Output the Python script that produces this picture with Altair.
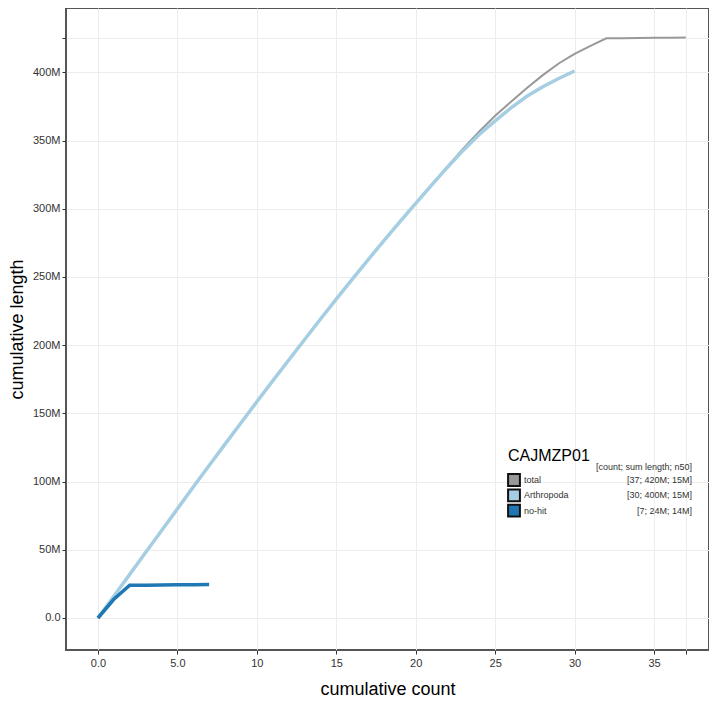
import altair as alt
import pandas as pd

# ---- data (cumulative length in millions vs cumulative contig count) ----
total_M = [0, 16.0, 32.0, 48.0, 64.0, 80.0, 96.0, 111.8, 127.5, 143.0, 158.5,
           173.8, 189.0, 204.0, 219.0, 233.8, 248.3, 262.6, 276.6, 290.4, 304.0,
           317.4, 331.1, 344.2, 356.7, 368.2, 378.5, 388.5, 398.0, 406.5, 413.5,
           419.5, 425.0, 425.1, 425.2, 425.3, 425.4, 425.5]
arthropoda_M = [0, 16.0, 32.0, 48.0, 64.0, 80.0, 96.0, 111.8, 127.5, 143.0, 158.5,
                173.8, 189.0, 204.0, 219.0, 233.8, 248.3, 262.6, 276.6, 290.4, 304.0,
                317.4, 330.5, 343.0, 354.5, 364.5, 374.0, 382.5, 389.5, 395.5, 401.0]
nohit_M = [0, 13.7, 24.0, 24.1, 24.2, 24.3, 24.4, 24.5]

series_names = ["total", "Arthropoda", "no-hit"]
series_colors = ["#999999", "#a6cee3", "#1f78b4"]
series_widths = [2, 3.5, 3.5]
legend_stats = ["[37; 420M; 15M]", "[30; 400M; 15M]", "[7; 24M; 14M]"]
assembly_name = "CAJMZP01"

x_ticks = [0, 5, 10, 15, 20, 25, 30, 35, 37]
y_ticks_M = [0, 50, 100, 150, 200, 250, 300, 350, 400, 425]

series_values = [total_M, arthropoda_M, nohit_M]

W, H = 643, 642

xscale = alt.Scale(domain=[-2.01, 38.46], nice=False, zero=False)
yscale = alt.Scale(domain=[-23.46e6, 447.2e6], nice=False, zero=False)

xaxis = alt.Axis(values=x_ticks,
                 labelExpr="datum.value == 37 ? '' : format(datum.value, '.2s')",
                 title="cumulative count", titleFontSize=18, titleFontWeight="normal",
                 titleColor="#000000", titlePadding=12, labelFontSize=11,
                 labelColor="#333333", tickColor="#333333", tickSize=4, labelPadding=3,
                 domain=False, grid=True, gridColor="#ececec", gridWidth=1,
                 titleFont="Liberation Sans", labelFont="Liberation Sans")
yaxis = alt.Axis(values=[v * 1e6 for v in y_ticks_M],
                 labelExpr="datum.value > 410e6 && datum.value < 440e6 ? '' : format(datum.value, '.2s')",
                 title="cumulative length", titleFontSize=18, titleFontWeight="normal",
                 titleColor="#000000", titlePadding=6, labelFontSize=11,
                 labelColor="#333333", tickColor="#333333", tickSize=4, labelPadding=2,
                 domain=False, grid=True, gridColor="#ececec", gridWidth=1,
                 titleFont="Liberation Sans", labelFont="Liberation Sans")

layers = []
for i, (name, vals) in enumerate(zip(series_names, series_values)):
    df = pd.DataFrame({"count": list(range(len(vals))),
                       "length": [v * 1e6 for v in vals],
                       "series": name})
    ch = alt.Chart(df).mark_line(color=series_colors[i], strokeWidth=series_widths[i]).encode(
        x=alt.X("count:Q", scale=xscale, axis=xaxis),
        y=alt.Y("length:Q", scale=yscale, axis=yaxis),
    )
    layers.append(ch)

# ---- custom legend (layout positions in pixels within the plot area) ----
leg_x0 = 442
row_y0 = 472
row_dy = 15.3
one = pd.DataFrame({"a": [0]})
layers.append(alt.Chart(one).mark_text(text=assembly_name, align="left", baseline="alphabetic",
                                       fontSize=16, font="Liberation Sans", color="#000000").encode(
    x=alt.value(leg_x0), y=alt.value(452.5)))
layers.append(alt.Chart(one).mark_text(text="[count; sum length; n50]", align="right", baseline="middle",
                                       fontSize=9, font="Liberation Sans", color="#333333").encode(
    x=alt.value(626), y=alt.value(458.5)))
for i, name in enumerate(series_names):
    yy = row_y0 + i * row_dy
    layers.append(alt.Chart(one).mark_square(size=140, fill=series_colors[i], fillOpacity=1,
                                             stroke="#111111", strokeWidth=2, opacity=1).encode(
        x=alt.value(leg_x0 + 6), y=alt.value(yy)))
    layers.append(alt.Chart(one).mark_text(text=name, align="left", baseline="middle",
                                           fontSize=9, font="Liberation Sans", color="#333333").encode(
        x=alt.value(leg_x0 + 16), y=alt.value(yy)))
    layers.append(alt.Chart(one).mark_text(text=legend_stats[i], align="right", baseline="middle",
                                           fontSize=9, font="Liberation Sans", color="#333333").encode(
        x=alt.value(626), y=alt.value(yy)))

chart = alt.layer(*layers).properties(
    width=W, height=H,
    autosize=alt.AutoSizeParams(type="none"),
    padding={"left": 58, "top": 0, "right": 0, "bottom": 50},
    background="#ffffff",
).configure_view(stroke="#555555", strokeWidth=2)

chart.save("out.html", embed_options={"renderer": "svg", "actions": False})
